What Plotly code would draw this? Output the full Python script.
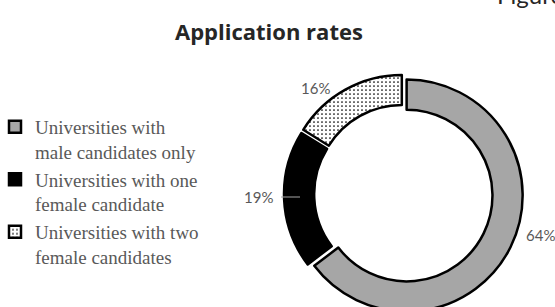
import plotly.graph_objects as go

# ---- data ----
categories = [
    "Universities with<br>male candidates only",
    "Universities with one<br>female candidate",
    "Universities with two<br>female candidates",
]
values = [64, 19, 16]
colors = ["#A6A6A6", "#000000", "#FFFFFF"]
patterns = ["", "", "."]
title_text = "Application rates"
figure_text = "Figure"

W, H = 555, 315  # drawn slightly taller than the window; bottom rows fall outside view


def px(x):
    return x / W


def py(y):
    return 1 - y / H


fig = go.Figure()
fig.add_trace(go.Pie(
    labels=categories,
    values=values,
    sort=False,
    direction="clockwise",
    rotation=0,
    hole=0.74,
    pull=[0.03, 0.03, 0.03],
    textinfo="none",
    hoverinfo="label+percent",
    marker=dict(
        colors=colors,
        line=dict(color="#000000", width=2.5),
        pattern=dict(shape=patterns, fgcolor="#000000", bgcolor="#FFFFFF",
                     size=4, solidity=0.15),
    ),
    domain=dict(x=[px(284), px(523)], y=[0, py(73)]),
))

annotations = [
    dict(text=f"<b>{title_text}</b>", x=px(269), y=py(31), xref="paper", yref="paper",
         showarrow=False, font=dict(family="Open Sans", size=22, color="#262626"),
         xanchor="center", yanchor="middle"),
    dict(text=figure_text, x=px(495), y=py(11), xref="paper", yref="paper",
         showarrow=False, font=dict(family="Lato", size=24, color="#262626"),
         xanchor="left", yanchor="bottom"),
]
label_pos = [(540, 235), (258, 197), (315, 88)]
for v, (lx, ly) in zip(values, label_pos):
    annotations.append(dict(text=f"{v}%", x=px(lx), y=py(ly), xref="paper", yref="paper",
                            showarrow=False, font=dict(family="Lato", size=15, color="#595959"),
                            xanchor="center", yanchor="middle"))

fig.update_layout(
    width=W, height=H,
    margin=dict(l=0, r=0, t=0, b=0, autoexpand=False),
    paper_bgcolor="white",
    plot_bgcolor="white",
    showlegend=True,
    legend=dict(
        x=px(-5), y=py(108), xanchor="left", yanchor="top",
        font=dict(family="Liberation Serif", size=19, color="#595959"),
        valign="top", bgcolor="rgba(0,0,0,0)", tracegroupgap=2,
    ),
    annotations=annotations,
    shapes=[dict(type="line", xref="paper", yref="paper",
                 x0=px(281), x1=px(300), y0=py(197), y1=py(197),
                 line=dict(color="#A6A6A6", width=1))],
)

fig.write_html("out.html", config={"displayModeBar": False},
               post_script="document.body.style.margin='0px';"
                           "document.body.style.overflow='hidden';")
